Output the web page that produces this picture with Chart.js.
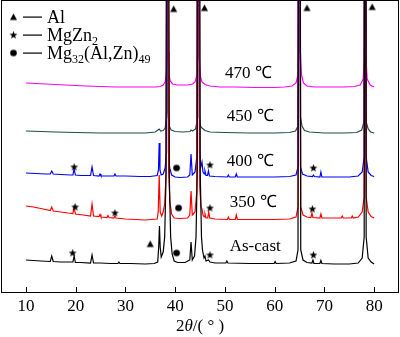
<!DOCTYPE html>
<html>
<head>
<meta charset="utf-8">
<script src="https://cdn.jsdelivr.net/npm/chart.js@4.4.1/dist/chart.umd.min.js"></script>
<style>
  html, body { margin: 0; padding: 0; background: #fff; }
</style>
</head>
<body>
<canvas id="xrd" width="400" height="337"></canvas>
<script>
// x axis: 2theta (deg); y: intensity in arbitrary units, curves offset vertically
const xTicks = [10, 20, 30, 40, 50, 60, 70, 80];

// [2theta, intensity] (Al peaks run off the top)
const s470 = [[10,209],[12,208.5],[14,208],[16,207.5],[18,207],[20,206.5],[22,206],[25,205.5],[28,205],[31,205],[34,205],[36,205],[37,205.5],[37.6,207],[38.0,210],[38.25,218],[38.4,240],[38.5,900],[38.6,240],[38.75,218],[39.0,211],[39.5,208],[40.5,207],[41.5,207],[42.5,207],[43.5,208],[44.0,210],[44.35,216],[44.55,235],[44.7,900],[44.85,235],[45.05,216],[45.4,210],[46,207.5],[47,206],[49,205],[52,205],[56,204.5],[60,204.5],[62,205],[63.5,206],[64.3,209],[64.7,217],[64.9,240],[65.05,900],[65.2,240],[65.4,217],[65.8,209],[66.5,206],[68,205],[71,205],[74,205],[76,205.5],[77.2,207],[77.8,213],[78.05,235],[78.2,900],[78.35,235],[78.6,213],[79.2,207],[80,205]];

const s450 = [[10,161],[13,160.5],[16,160],[20,159.5],[25,159],[30,159],[34,159],[36,160],[36.8,163],[37.1,161],[37.6,161.5],[38.0,164],[38.3,175],[38.45,900],[38.6,180],[38.8,166],[39.2,162],[40,160.5],[41.5,160],[43,160.5],[43.2,162],[43.5,161],[44.1,163],[44.45,172],[44.65,900],[44.85,175],[45.1,166],[45.4,164],[46,161.5],[47,160],[50,159.5],[55,159],[60,159],[63,159.5],[64.2,161],[64.7,166],[64.95,900],[65.2,175],[65.5,166],[66,161.5],[67,160],[70,159],[74,159],[76.5,159.5],[77.5,162],[77.95,170],[78.15,900],[78.4,170],[78.8,163],[79.3,160],[80,159]];

const s400 = [[10,119],[12,118.5],[14,118],[14.9,118],[15.2,121],[15.5,118],[17,117.5],[19,117],[19.45,117],[19.7,123],[19.95,117],[21,116.5],[23,116.5],[23.3,125],[23.6,116.5],[24.7,116],[24.9,118],[25.1,116],[27.7,116],[27.9,118],[28.1,116],[30,116],[33,115.5],[35,115.5],[36.4,116.5],[36.65,122],[36.8,149],[36.95,122],[37.2,117],[37.6,118],[38.0,124],[38.25,140],[38.45,900],[38.65,140],[38.9,124],[39.3,117],[40,115],[41,114.5],[42.5,115],[42.95,117],[43.2,138],[43.45,117],[44.0,120],[44.35,135],[44.65,900],[44.9,140],[45.15,125],[45.4,130],[45.6,120],[45.85,118],[46.0,121],[46.2,116.5],[46.5,116.5],[46.7,121],[46.9,116],[48,115.5],[50.5,115],[50.7,117],[50.9,115],[52.1,115],[52.3,118],[52.5,115],[56,115],[60,115],[63,115.5],[64.3,117],[64.7,125],[64.95,900],[65.2,125],[65.6,118],[66.5,116],[67.6,115.5],[67.8,117],[68,115.5],[69.1,115],[69.3,120],[69.5,115],[72,115],[75,115],[76.8,116],[77.6,120],[78.0,135],[78.2,900],[78.4,135],[78.8,120],[79.4,116.5],[80,115.5]];

const s350 = [[10,86],[11.5,85],[13,83.5],[14.9,81.5],[15.2,85],[15.5,81],[17,80],[18.5,79],[19.45,78.5],[19.7,85],[19.95,78],[21.5,77],[23.0,76],[23.3,88],[23.6,76],[24.7,75.5],[24.9,77.5],[25.1,75],[26.3,74.5],[26.5,76.5],[26.7,74.5],[27.7,74],[27.9,76],[28.1,74],[30,73],[32,72.5],[34,72],[36.4,73],[36.6,80],[36.8,117],[37.0,80],[37.3,76],[37.6,80],[37.9,88],[38.2,120],[38.45,900],[38.7,120],[38.95,90],[39.3,78],[39.8,74],[41,73.5],[42.5,74],[42.95,77],[43.2,101],[43.45,77],[44.0,80],[44.35,100],[44.65,900],[44.95,105],[45.2,85],[45.4,83],[45.6,77],[45.85,75],[46.0,78],[46.2,74],[46.55,74],[46.75,80],[46.95,74],[48,73],[50.5,72.5],[50.7,75],[50.9,72.5],[52.1,72.5],[52.3,77],[52.5,72.5],[56,72.5],[60,72.5],[63,73],[64.3,75],[64.7,85],[64.95,900],[65.25,85],[65.7,77],[66.5,75],[67.3,74.5],[67.5,79],[67.7,74.5],[69.1,74],[69.3,78],[69.5,74],[73.4,74],[73.6,76],[73.8,74],[75.4,74],[75.6,76],[75.8,74],[76.8,75],[77.6,80],[78.0,95],[78.2,900],[78.4,95],[78.8,80],[79.4,75.5],[80,74]];

const sCast = [[10,32],[11.5,31.5],[13,31],[14.9,30.5],[15.2,36],[15.5,30.5],[17,30],[19.45,30],[19.7,36],[19.95,29.5],[21,29.5],[23,29],[23.3,37],[23.6,29],[25,29],[27,28.5],[28.5,28.5],[28.7,30],[28.9,28.5],[31,28.5],[34,28],[35.8,28.5],[36.5,30],[36.7,45],[36.85,66],[37.0,45],[37.2,35],[37.6,40],[37.9,55],[38.15,110],[38.5,900],[38.85,110],[39.1,55],[39.4,38],[39.8,31],[40.5,29.5],[42,29.5],[42.95,32],[43.2,50],[43.45,32],[43.9,36],[44.2,55],[44.45,120],[44.75,900],[45.05,120],[45.3,55],[45.5,42],[45.8,34],[46.0,36],[46.2,31],[46.7,32],[47,30],[48,29],[50.2,29],[50.4,31],[50.6,29],[55,28.5],[59.9,28.5],[60.1,30.5],[60.3,28.5],[63,29],[64.3,31],[64.7,42],[64.95,900],[65.25,42],[65.7,32],[66.5,29.5],[67.5,29],[67.7,32],[67.9,28.5],[69.1,28.5],[69.3,31.5],[69.5,28.5],[72,28],[75,28],[76.8,29],[77.6,34],[78.0,55],[78.2,900],[78.4,55],[78.8,34],[79.4,30],[80,28]];

// phase markers [2theta, intensity]
const markAl = [[39.7,283],[45.9,284],[66.5,284],[79.6,285],[35.0,48]];
const markMgZn2 = [[19.7,125],[47.0,127],[67.8,124],[19.9,85],[27.9,79],[47.0,84],[67.6,83],[19.4,39],[47.0,37],[67.8,37]];
const markMg32 = [[40.3,124],[40.7,84],[40.3,39]];

// curve labels [2theta, intensity, text]
const curveLabels = [[54.7,218,'470 ℃'],[55.1,175,'450 ℃'],[55.1,130,'400 ℃'],[55.7,89,'350 ℃'],[56.1,45,'As-cast']];

const SERIF = "'Liberation Serif', 'Times New Roman', serif";

function makeSymbol(kind) {
    const c = document.createElement('canvas');
    c.width = 9; c.height = 9;
    const g = c.getContext('2d');
    g.fillStyle = '#000';
    g.beginPath();
    if (kind === 'triangle') {
        g.moveTo(4.5, 1); g.lineTo(8, 7.5); g.lineTo(1, 7.5);
    } else if (kind === 'star') {
        for (let i = 0; i < 10; i++) {
            const r = i % 2 ? 1.7 : 4.2;
            const a = -Math.PI / 2 + i * Math.PI / 5;
            g.lineTo(4.5 + r * Math.cos(a), 4.7 + r * Math.sin(a));
        }
    } else {
        g.arc(4.5, 4.5, 3.3, 0, Math.PI * 2);
    }
    g.closePath();
    g.fill();
    return c;
}
const symbols = { triangle: makeSymbol('triangle'), star: makeSymbol('star'), circle: makeSymbol('circle') };

const curve = (data, color) => ({
    data: data.map(([x, y]) => ({ x, y })),
    borderColor: color, borderWidth: 1.2, pointRadius: 0, tension: 0, fill: false
});
const marks = (data, sym) => ({
    data: data.map(([x, y]) => ({ x, y })),
    showLine: false, pointStyle: symbols[sym], pointRadius: 4, pointHoverRadius: 4
});

// frame, inward ticks, tick labels, curve labels, legend and axis title
const decor = {
    id: 'decor',
    afterDraw(chart) {
        const { ctx, chartArea: a, scales: { x, y } } = chart;
        ctx.save();
        ctx.strokeStyle = '#000';
        ctx.lineWidth = 1;
        ctx.strokeRect(a.left + 0.5, a.top + 0.5, a.right - a.left - 1, a.bottom - a.top);
        ctx.beginPath();
        xTicks.forEach(v => {
            const px = Math.round(x.getPixelForValue(v)) + 0.5;
            ctx.moveTo(px, a.bottom); ctx.lineTo(px, a.bottom - 5);
        });
        ctx.stroke();

        ctx.fillStyle = '#000';
        ctx.font = `17px ${SERIF}`;
        ctx.textAlign = 'center';
        ctx.textBaseline = 'alphabetic';
        xTicks.forEach(v => ctx.fillText(String(v), x.getPixelForValue(v), a.bottom + 19));

        ctx.textBaseline = 'middle';
        curveLabels.forEach(([lx, ly, t]) => ctx.fillText(t, x.getPixelForValue(lx), y.getPixelForValue(ly)));

        // legend
        const rows = [
            ['triangle', [['Al', 0]]],
            ['star', [['MgZn', 0], ['2', 1]]],
            ['circle', [['Mg', 0], ['32', 1], ['(Al,Zn)', 0], ['49', 1]]]
        ];
        ctx.textAlign = 'left';
        ctx.textBaseline = 'alphabetic';
        rows.forEach(([sym, parts], i) => {
            const cy = 17 + i * 18;
            ctx.drawImage(symbols[sym], 9, cy - 4.5);
            ctx.fillRect(23, cy - 0.5, 19, 1.2);
            let tx = 47;
            parts.forEach(([t, sub]) => {
                ctx.font = sub ? `12px ${SERIF}` : `18px ${SERIF}`;
                ctx.fillText(t, tx, cy + 6 + (sub ? 4 : 0));
                tx += ctx.measureText(t).width;
            });
        });

        // axis title 2θ/(°)
        const parts = [['2', ''], ['θ', 'italic '], ['/( ° )', '']];
        let w = 0;
        parts.forEach(([t, st]) => { ctx.font = `${st}17px ${SERIF}`; w += ctx.measureText(t).width; });
        let tx = (a.left + a.right) / 2 - w / 2;
        parts.forEach(([t, st]) => {
            ctx.font = `${st}17px ${SERIF}`;
            ctx.fillText(t, tx, 331);
            tx += ctx.measureText(t).width;
        });
        ctx.restore();
    }
};

new Chart(document.getElementById('xrd'), {
    type: 'line',
    data: {
        datasets: [
            marks(markAl, 'triangle'),
            marks(markMgZn2, 'star'),
            marks(markMg32, 'circle'),
            curve(sCast, '#000000'),
            curve(s350, '#ff0000'),
            curve(s400, '#0000ff'),
            curve(s450, '#1f4f47'),
            curve(s470, '#ff00ff')
        ]
    },
    options: {
        responsive: false,
        devicePixelRatio: 1,
        animation: false,
        events: [],
        layout: { autoPadding: false, padding: { top: 0, left: 1, right: 1, bottom: 0 } },
        plugins: { legend: { display: false }, tooltip: { enabled: false } },
        scales: {
            x: {
                type: 'linear', min: 5, max: 85,
                afterBuildTicks: s => { s.ticks = xTicks.map(v => ({ value: v })); },
                afterFit: s => { s.height = 45; },
                grid: { display: false },
                border: { display: false },
                ticks: { display: false }
            },
            y: { display: false, min: 0, max: 292 }
        }
    },
    plugins: [decor]
});
</script>
</body>
</html>
